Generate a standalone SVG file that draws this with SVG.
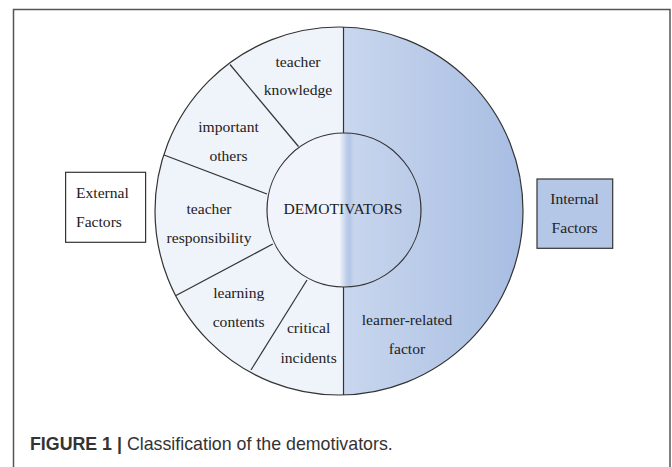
<svg xmlns="http://www.w3.org/2000/svg" width="672" height="467" viewBox="0 0 672 467">
  <defs>
    <linearGradient id="gRight" gradientUnits="userSpaceOnUse" x1="343.5" y1="0" x2="523" y2="0">
      <stop offset="0" stop-color="#c9d7ee"/>
      <stop offset="1" stop-color="#a7bde2"/>
    </linearGradient>
    <linearGradient id="gInner" gradientUnits="userSpaceOnUse" x1="267" y1="0" x2="421" y2="0">
      <stop offset="0" stop-color="#f1f4fa"/>
      <stop offset="0.47" stop-color="#f1f4fa"/>
      <stop offset="0.515" stop-color="#bfcfea"/>
      <stop offset="0.535" stop-color="#b3c6e6"/>
      <stop offset="0.565" stop-color="#c7d5ed"/>
      <stop offset="1" stop-color="#bacbe8"/>
    </linearGradient>
  </defs>
  <style>
    .seg { stroke: #333; stroke-width: 1.2; fill: none; }
    .lbl { font-family: "Liberation Serif", "Times New Roman", serif; font-size: 15.6px; fill: #222; text-anchor: middle; }
    .box { stroke: #333; stroke-width: 1.2; }
    .cap { font-family: "Liberation Sans", Arial, sans-serif; font-size: 17.8px; fill: #333; }
  </style>
  <rect x="0" y="0" width="672" height="467" fill="#ffffff"/>
  <path d="M13.5,467 V9.5 H670 V467" fill="none" stroke="#555" stroke-width="1.5"/>

  <g id="ring">
    <circle cx="339" cy="211" r="184" fill="#eff3fa" stroke="none"/>
    <path d="M343.5,27.06 A184,184 0 0 1 343.5,394.94 Z" fill="url(#gRight)" stroke="none"/>
    <circle cx="339" cy="211" r="184" fill="none" stroke="#333" stroke-width="1.2"/>
  </g>

  <g id="connectors">
    <line class="seg" x1="343.5" y1="27" x2="343.5" y2="133"/>
    <line class="seg" x1="343.5" y1="287" x2="343.5" y2="395"/>
    <line class="seg" x1="230" y1="64.5" x2="298.5" y2="146.5"/>
    <line class="seg" x1="164" y1="155" x2="267" y2="194"/>
    <line class="seg" x1="272.8" y1="244" x2="176" y2="295.5"/>
    <line class="seg" x1="307" y1="280" x2="251" y2="370"/>
  </g>

  <g id="center">
    <circle cx="344" cy="210" r="77" fill="url(#gInner)" stroke="#333" stroke-width="1.2"/>
    <text class="lbl" x="343" y="213.5">DEMOTIVATORS</text>
  </g>

  <g id="teacher-knowledge">
    <text class="lbl" x="298" y="66.5">teacher</text>
    <text class="lbl" x="298" y="95">knowledge</text>
  </g>
  <g id="important-others">
    <text class="lbl" x="228.5" y="132">important</text>
    <text class="lbl" x="228.5" y="160.5">others</text>
  </g>
  <g id="teacher-responsibility">
    <text class="lbl" x="209" y="214">teacher</text>
    <text class="lbl" x="209" y="243">responsibility</text>
  </g>
  <g id="learning-contents">
    <text class="lbl" x="238.7" y="298">learning</text>
    <text class="lbl" x="238.7" y="326.5">contents</text>
  </g>
  <g id="critical-incidents">
    <text class="lbl" x="308.6" y="333">critical</text>
    <text class="lbl" x="308.6" y="362.5">incidents</text>
  </g>
  <g id="learner-related">
    <text class="lbl" x="407" y="325">learner-related</text>
    <text class="lbl" x="407" y="354">factor</text>
  </g>

  <g id="external-factors">
    <rect class="box" x="65.6" y="172.3" width="80" height="70" fill="#ffffff"/>
    <text class="lbl" x="76" y="198" style="text-anchor:start">External</text>
    <text class="lbl" x="76" y="227" style="text-anchor:start">Factors</text>
  </g>
  <g id="internal-factors">
    <rect class="box" x="537" y="179" width="75.7" height="69.3" fill="#b4c7e7"/>
    <text class="lbl" x="574.5" y="204">Internal</text>
    <text class="lbl" x="574.5" y="233">Factors</text>
  </g>

  <g id="caption">
    <text class="cap" x="30" y="449.5"><tspan font-weight="bold">FIGURE 1</tspan><tspan font-weight="bold"> | </tspan><tspan>Classification of the demotivators.</tspan></text>
  </g>
</svg>
